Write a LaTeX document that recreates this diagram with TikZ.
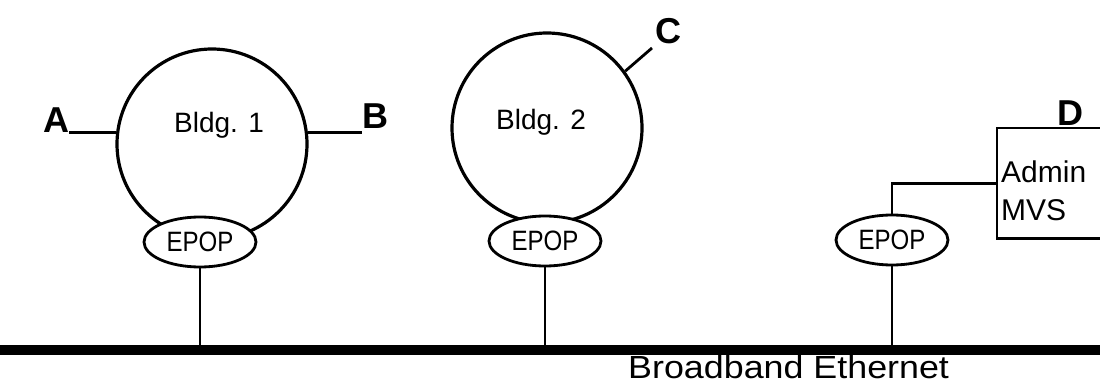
\documentclass[tikz,border=0pt]{standalone}
\usepackage{fontspec}
\setmainfont{Liberation Sans}
\usetikzlibrary{shapes.geometric}
\tikzset{
  bldg/.style={circle, draw, line width=3.2pt, minimum size=190pt, inner sep=0pt},
  epop/.style={ellipse, draw, fill=white, line width=2.8pt, minimum width=112pt, minimum height=50pt, inner sep=0pt, font=\fontsize{28}{30}\selectfont},
  lbl/.style={inner sep=0pt, font=\fontsize{28}{30}\selectfont},
  letter/.style={inner sep=0pt, font=\fontsize{36}{38}\selectfont\bfseries},
  wire/.style={line width=2.8pt},
  boxline/.style={line width=2.8pt},
}
\begin{document}
\begin{tikzpicture}[x=1pt,y=-1pt]
\useasboundingbox (0,0) rectangle (1100,385);
% buildings
\node[bldg] (b1) at (212,144) {};
\node[bldg] (b2) at (547,128) {};
\node[lbl, anchor=base] (t1) at (219,133) {Bldg. 1};
\node[lbl, anchor=base] (t2) at (541,130) {Bldg. 2};
% letters
\node[letter, anchor=base west] (A) at (43,132) {A};
\node[letter, anchor=base west] (B) at (362,129) {B};
\node[letter, anchor=base west] (C) at (655,44) {C};
\node[letter, anchor=base] (D) at (1070,125) {D};
\coordinate (cend) at (652,48);
\draw[wire] (b1.173) -- (b1.173 -| A.east);
\draw[wire] (b1.7) -- (b1.7 -| B.west);
\draw[wire] (b2.36) -- (cend);
% admin box
\node[anchor=north west, minimum width=104pt, minimum height=110pt, inner sep=0pt] (mvs) at (997,128) {};
\draw[boxline] (mvs.north east) -- (mvs.north west) -- (mvs.south west) -- (mvs.south east);
\node[lbl, anchor=base west, font=\fontsize{30}{32}\selectfont] (admin) at (1001,182) {Admin};
\node[lbl, anchor=base west, font=\fontsize{30}{32}\selectfont] (mvst) at (1001,220) {MVS};
% EPOPs
\node[epop] (e1) at (200,242) {\scalebox{0.86}[1]{EPOP}};
\node[epop] (e2) at (545,241) {\scalebox{0.86}[1]{EPOP}};
\node[epop] (e3) at (892,240) {\scalebox{0.86}[1]{EPOP}};
\draw[wire] (e3.north) |- (mvs.west);
% bus
\coordinate (busL) at (0,350);
\coordinate (busR) at (1100,350);
\draw[line width=10pt] (busL) -- (busR);
\draw[wire] (e1.south) -- (e1.south |- busL);
\draw[wire] (e2.south) -- (e2.south |- busL);
\draw[wire] (e3.south) -- (e3.south |- busL);
\node[inner sep=0pt, anchor=base west, font=\fontsize{32}{34}\selectfont] (bus) at (628,378) {\scalebox{1.12}[1]{Broadband Ethernet}};
\end{tikzpicture}
\end{document}
